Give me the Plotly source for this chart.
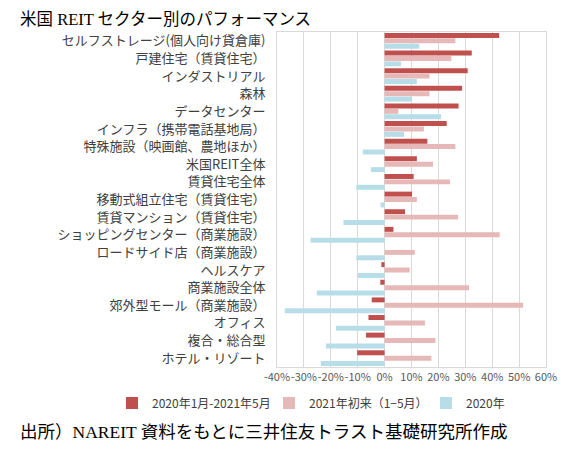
import plotly.graph_objects as go

categories = [
    "セルフストレージ(個人向け貸倉庫)",
    "戸建住宅（賃貸住宅）",
    "インダストリアル",
    "森林",
    "データセンター",
    "インフラ（携帯電話基地局）",
    "特殊施設（映画館、農地ほか）",
    "米国REIT全体",
    "賃貸住宅全体",
    "移動式組立住宅（賃貸住宅）",
    "賃貸マンション（賃貸住宅）",
    "ショッピングセンター（商業施設）",
    "ロードサイド店（商業施設）",
    "ヘルスケア",
    "商業施設全体",
    "郊外型モール（商業施設）",
    "オフィス",
    "複合・総合型",
    "ホテル・リゾート",
]

series_names = ["2020年1月-2021年5月", "2021年初来（1−5月）", "2020年"]

s_2020_2021 = [42.6, 32.4, 30.9, 28.8, 27.5, 23.1, 15.9, 12.0, 10.8, 10.2,
               7.6, 3.3, 0.0, -1.2, -1.6, -4.8, -6.0, -6.9, -10.2]
s_2021ytd = [26.3, 24.8, 16.7, 16.7, 5.1, 14.6, 26.3, 18.0, 24.3, 12.0,
             27.3, 42.8, 11.2, 9.3, 31.4, 51.5, 15.0, 18.9, 17.4]
s_2020 = [12.9, 6.1, 12.0, 10.2, 21.0, 7.2, -8.1, -5.1, -10.5, -1.5,
          -15.3, -27.5, -10.5, -9.9, -25.2, -37.1, -18.1, -21.8, -23.7]

tick_vals = [-40, -30, -20, -10, 0, 10, 20, 30, 40, 50, 60]
tick_text = ["-40%", "-30%", "-20%", "-10%", "0%", "10%", "20%", "30%", "40%", "50%", "60%"]

colors = ["#C0504D", "#E6B9B8", "#B7DEE8"]
series_values = [s_2020_2021, s_2021ytd, s_2020]

fig = go.Figure()
for name, vals, col in zip(series_names, series_values, colors):
    fig.add_trace(go.Bar(
        y=categories, x=vals, name=name, orientation="h",
        marker=dict(color=col, line=dict(width=0)),
    ))

# the page body adds an 8px offset; positions below are in page coordinates
W, H = 580, 450
OFF = 8
L, R, T, B = 277 - OFF, 580 - (546 - OFF), 32 - OFF, 450 - (367 - OFF)
pw = W - L - R
ph = H - T - B

def px(x):
    return (x - OFF - L) / pw

def py(y):
    return (H - B - (y - OFF)) / ph

fig.update_layout(
    width=W, height=H,
    margin=dict(l=L, r=R, t=T, b=B, autoexpand=False),
    paper_bgcolor="white", plot_bgcolor="white",
    barmode="group", bargap=0.08, bargroupgap=0.08,
    font=dict(family="Noto Sans CJK JP", color="#404040"),
    showlegend=True,
    legend=dict(
        orientation="h", x=px(112), xanchor="left", y=py(403), yanchor="middle",
        font=dict(size=12, color="#404040", family="Noto Sans CJK JP"),
        entrywidth=112, entrywidthmode="pixels",
        itemwidth=30, traceorder="normal",
    ),
    xaxis=dict(
        range=[-40, 60], tickvals=tick_vals, ticktext=tick_text,
        tickangle=0, automargin=False,
        showgrid=True, gridcolor="#D9D9D9", gridwidth=1,
        zeroline=False,
        showline=True, linecolor="#D9D9D9", linewidth=1, mirror=True,
        tickfont=dict(size=11, color="#595959",
                      family="Liberation Sans Narrow, Noto Sans CJK JP"),
        fixedrange=True,
    ),
    yaxis=dict(
        type="category", autorange="reversed", automargin=False,
        showgrid=False, zeroline=False,
        showline=True, linecolor="#D9D9D9", linewidth=1, mirror=True,
        tickfont=dict(size=13, color="#404040", family="Noto Sans CJK JP"),
        ticklabelstandoff=8,
        fixedrange=True,
    ),
    annotations=[
        dict(text="米国 REIT セクター別のパフォーマンス", xref="paper", yref="paper",
             x=px(18), y=py(OFF), xanchor="left", yanchor="top", showarrow=False,
             font=dict(size=16.5, color="#000000", family="Liberation Serif, Noto Sans CJK JP")),
        dict(text="出所）NAREIT 資料をもとに三井住友トラスト基礎研究所作成", xref="paper", yref="paper",
             x=px(18), y=py(432), xanchor="left", yanchor="middle", showarrow=False,
             font=dict(size=17.5, color="#000000", family="Liberation Serif, Noto Sans CJK JP")),
    ],
)

fig.write_html("out.html")
